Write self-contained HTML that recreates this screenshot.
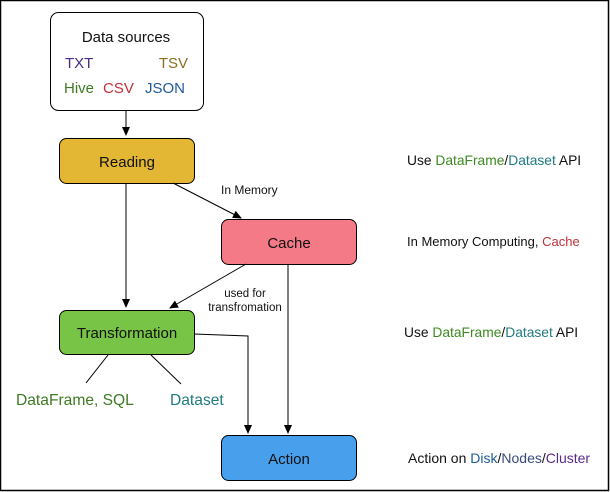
<!DOCTYPE html>
<html><head><style>
html,body{margin:0;padding:0;background:#fff;}
svg{display:block;font-family:"Liberation Sans",Arial,sans-serif;}
</style></head><body>
<svg width="610" height="492" viewBox="0 0 610 492" xmlns="http://www.w3.org/2000/svg">
<defs><marker id="a" markerWidth="10" markerHeight="10" refX="8" refY="4" orient="auto" markerUnits="userSpaceOnUse"><path d="M0,0 L9,4 L0,8 Z" fill="#000"/></marker></defs>
<rect x="0.5" y="0.5" width="608" height="490" fill="#fff" stroke="#000" stroke-width="1.5"/>
<rect x="50.5" y="12.5" width="153" height="98" rx="8" fill="#fff" stroke="#000"/>
<text x="126" y="42" font-size="15" text-anchor="middle" fill="#111">Data sources</text>
<text x="65" y="68" font-size="15" fill="#4b2a8a">TXT</text>
<text x="188" y="68" font-size="15" fill="#8b6e22" text-anchor="end">TSV</text>
<text x="64" y="93" font-size="15" fill="#3d7a22">Hive</text>
<text x="103" y="93" font-size="15" fill="#c0303a">CSV</text>
<text x="145" y="93" font-size="15" fill="#1f5a9a">JSON</text>
<line x1="126" y1="111" x2="126" y2="135" stroke="#000" marker-end="url(#a)"/>
<rect x="59.5" y="138.5" width="135" height="45" rx="7" fill="#e3b733" stroke="#000"/>
<text x="127" y="167" font-size="15" text-anchor="middle" fill="#111">Reading</text>
<line x1="126" y1="184" x2="126" y2="307" stroke="#000" marker-end="url(#a)"/>
<line x1="173" y1="183" x2="241" y2="218" stroke="#000" marker-end="url(#a)"/>
<text x="221" y="194" font-size="12" fill="#111">In Memory</text>
<rect x="221.5" y="219.5" width="135" height="45" rx="7" fill="#f57a88" stroke="#000"/>
<text x="289" y="248" font-size="15" text-anchor="middle" fill="#111">Cache</text>
<line x1="246" y1="264" x2="170" y2="308" stroke="#000" marker-end="url(#a)"/>
<text x="245" y="297" font-size="11.5" text-anchor="middle" fill="#111">used for</text>
<text x="245" y="311" font-size="11.5" text-anchor="middle" fill="#111">transfromation</text>
<line x1="288" y1="265" x2="288" y2="433" stroke="#000" marker-end="url(#a)"/>
<rect x="59.5" y="310.5" width="135" height="44" rx="7" fill="#78c447" stroke="#000"/>
<text x="127" y="338" font-size="15" text-anchor="middle" fill="#111">Transformation</text>
<polyline points="194,334 248,336 248,433" fill="none" stroke="#000" marker-end="url(#a)"/>
<line x1="108" y1="355" x2="86" y2="383" stroke="#000"/>
<line x1="151" y1="355" x2="181" y2="384" stroke="#000"/>
<text x="16" y="405" font-size="15.6" fill="#3d7a22">DataFrame, SQL</text>
<text x="170" y="405" font-size="15.6" fill="#1f7a80">Dataset</text>
<rect x="221.5" y="435.5" width="135" height="45" rx="7" fill="#48a0ec" stroke="#000"/>
<text x="289" y="464" font-size="15" text-anchor="middle" fill="#111">Action</text>
<text x="407" y="165" font-size="13.8" fill="#111">Use <tspan fill="#3d8a22">DataFrame</tspan>/<tspan fill="#1f7a80">Dataset</tspan> API</text>
<text x="407" y="246" font-size="13" fill="#111">In Memory Computing, <tspan fill="#c0303a">Cache</tspan></text>
<text x="404" y="337" font-size="13.8" fill="#111">Use <tspan fill="#3d8a22">DataFrame</tspan>/<tspan fill="#1f7a80">Dataset</tspan> API</text>
<text x="408" y="463" font-size="14" fill="#111">Action on <tspan fill="#1f5a9a">Disk</tspan>/<tspan fill="#3a4a7a">Nodes</tspan>/<tspan fill="#5a2a8a">Cluster</tspan></text>
</svg>
</body></html>
